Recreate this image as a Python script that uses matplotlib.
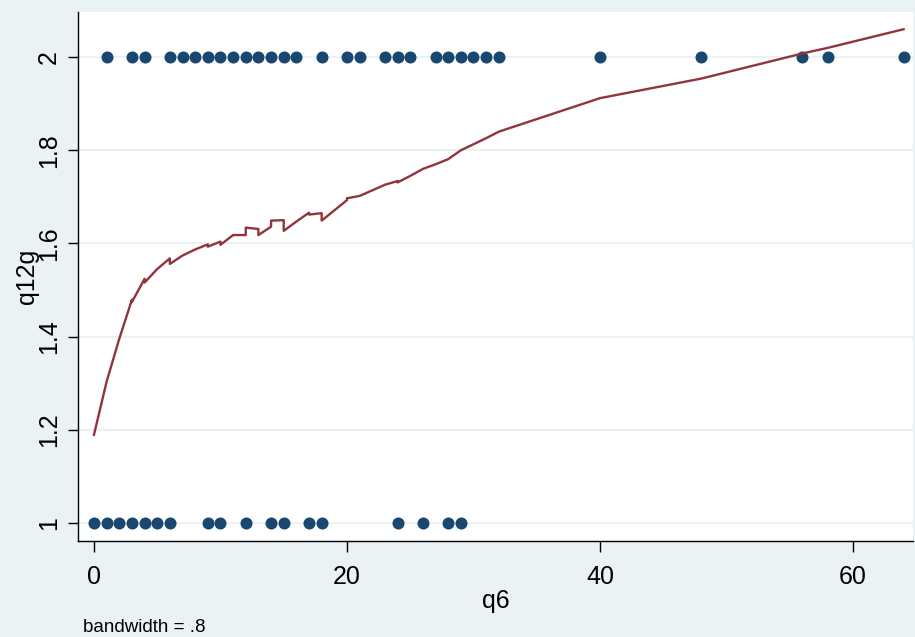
import matplotlib
matplotlib.use("Agg")
import matplotlib.pyplot as plt

# Observed data (q6 values) by q12g group
x_top = [1, 3, 4, 6, 7, 8, 9, 10, 11, 12, 13, 14, 15, 16, 18, 20, 21, 23, 24, 25,
         27, 28, 29, 30, 31, 32, 40, 48, 56, 58, 64]
x_bot = [0, 1, 2, 3, 4, 5, 6, 9, 10, 12, 14, 15, 17, 18, 24, 26, 28, 29]
y_top_val = 2
y_bot_val = 1

lowess_x = [0, 1, 2, 3, 3, 4, 4, 5, 6, 6, 7, 8, 9, 9, 10, 10, 11, 12, 12,
            13, 13, 14, 14, 15, 15, 16, 17, 17, 18, 18, 20, 20, 21, 23, 24, 24,
            25, 26, 27, 28, 29, 30, 31, 32, 40, 48, 56, 58, 64]
lowess_y = [1.189, 1.303, 1.395, 1.479, 1.474, 1.524, 1.516, 1.545, 1.568, 1.556,
            1.574, 1.587, 1.598, 1.593, 1.604, 1.597, 1.618, 1.618, 1.634,
            1.631, 1.618, 1.636, 1.649, 1.650, 1.627, 1.647, 1.666, 1.662, 1.665, 1.649,
            1.693, 1.697, 1.702, 1.726, 1.734, 1.731, 1.745, 1.760, 1.770, 1.781,
            1.800, 1.813, 1.826, 1.840, 1.912, 1.954, 2.008, 2.020, 2.060]

xticks = [0, 20, 40, 60]
yticks = [1, 1.2, 1.4, 1.6, 1.8, 2]
ytick_labels = ["1", "1.2", "1.4", "1.6", "1.8", "2"]

bg = "#EAF2F3"
navy = "#1A476F"
maroon = "#90353B"

plt.rcParams['font.family'] = ['Liberation Sans Narrow', 'Liberation Sans', 'DejaVu Sans']

fig = plt.figure(figsize=(9.15, 6.37), dpi=100)
fig.patch.set_facecolor(bg)
W, H = 915, 637
l, r, t, b = 78, 913, 12, 541
ax = fig.add_axes([l / W, 1 - b / H, (r - l) / W, (b - t) / H])
ax.set_facecolor("white")

ax.set_xlim(-1.26, 64.74)
ax.set_ylim(0.961, 2.097)

for yv in yticks:
    ax.axhline(yv, color=bg, lw=1.6, zorder=0)

ax.scatter(x_top, [y_top_val] * len(x_top), s=75, color=navy, zorder=3, linewidths=0)
ax.scatter(x_bot, [y_bot_val] * len(x_bot), s=75, color=navy, zorder=3, linewidths=0)
ax.plot(lowess_x, lowess_y, color=maroon, lw=1.7, zorder=4)

for s in ["top", "right"]:
    ax.spines[s].set_visible(False)
for s in ["left", "bottom"]:
    ax.spines[s].set_color("black")
    ax.spines[s].set_linewidth(1.0)

ax.set_xticks(xticks)
ax.set_xticklabels([str(v) for v in xticks], fontsize=18)
ax.set_yticks(yticks)
ax.set_yticklabels(ytick_labels, fontsize=18, rotation=90, va="center")
ax.tick_params(axis="x", length=8, width=1, color="black", pad=9)
ax.tick_params(axis="y", length=7.5, width=1, color="black", pad=5)

ax.set_xlabel("q6", fontsize=18, labelpad=0)
fig.text(27 / W, 1 - 276 / H, "q12g", fontsize=18, rotation=90,
         ha="center", va="center")

fig.text(83 / W, 1 - 627 / H, "bandwidth = .8", fontsize=13.5, ha="left", va="center")

fig.savefig("out.png", dpi=100, facecolor=bg)
